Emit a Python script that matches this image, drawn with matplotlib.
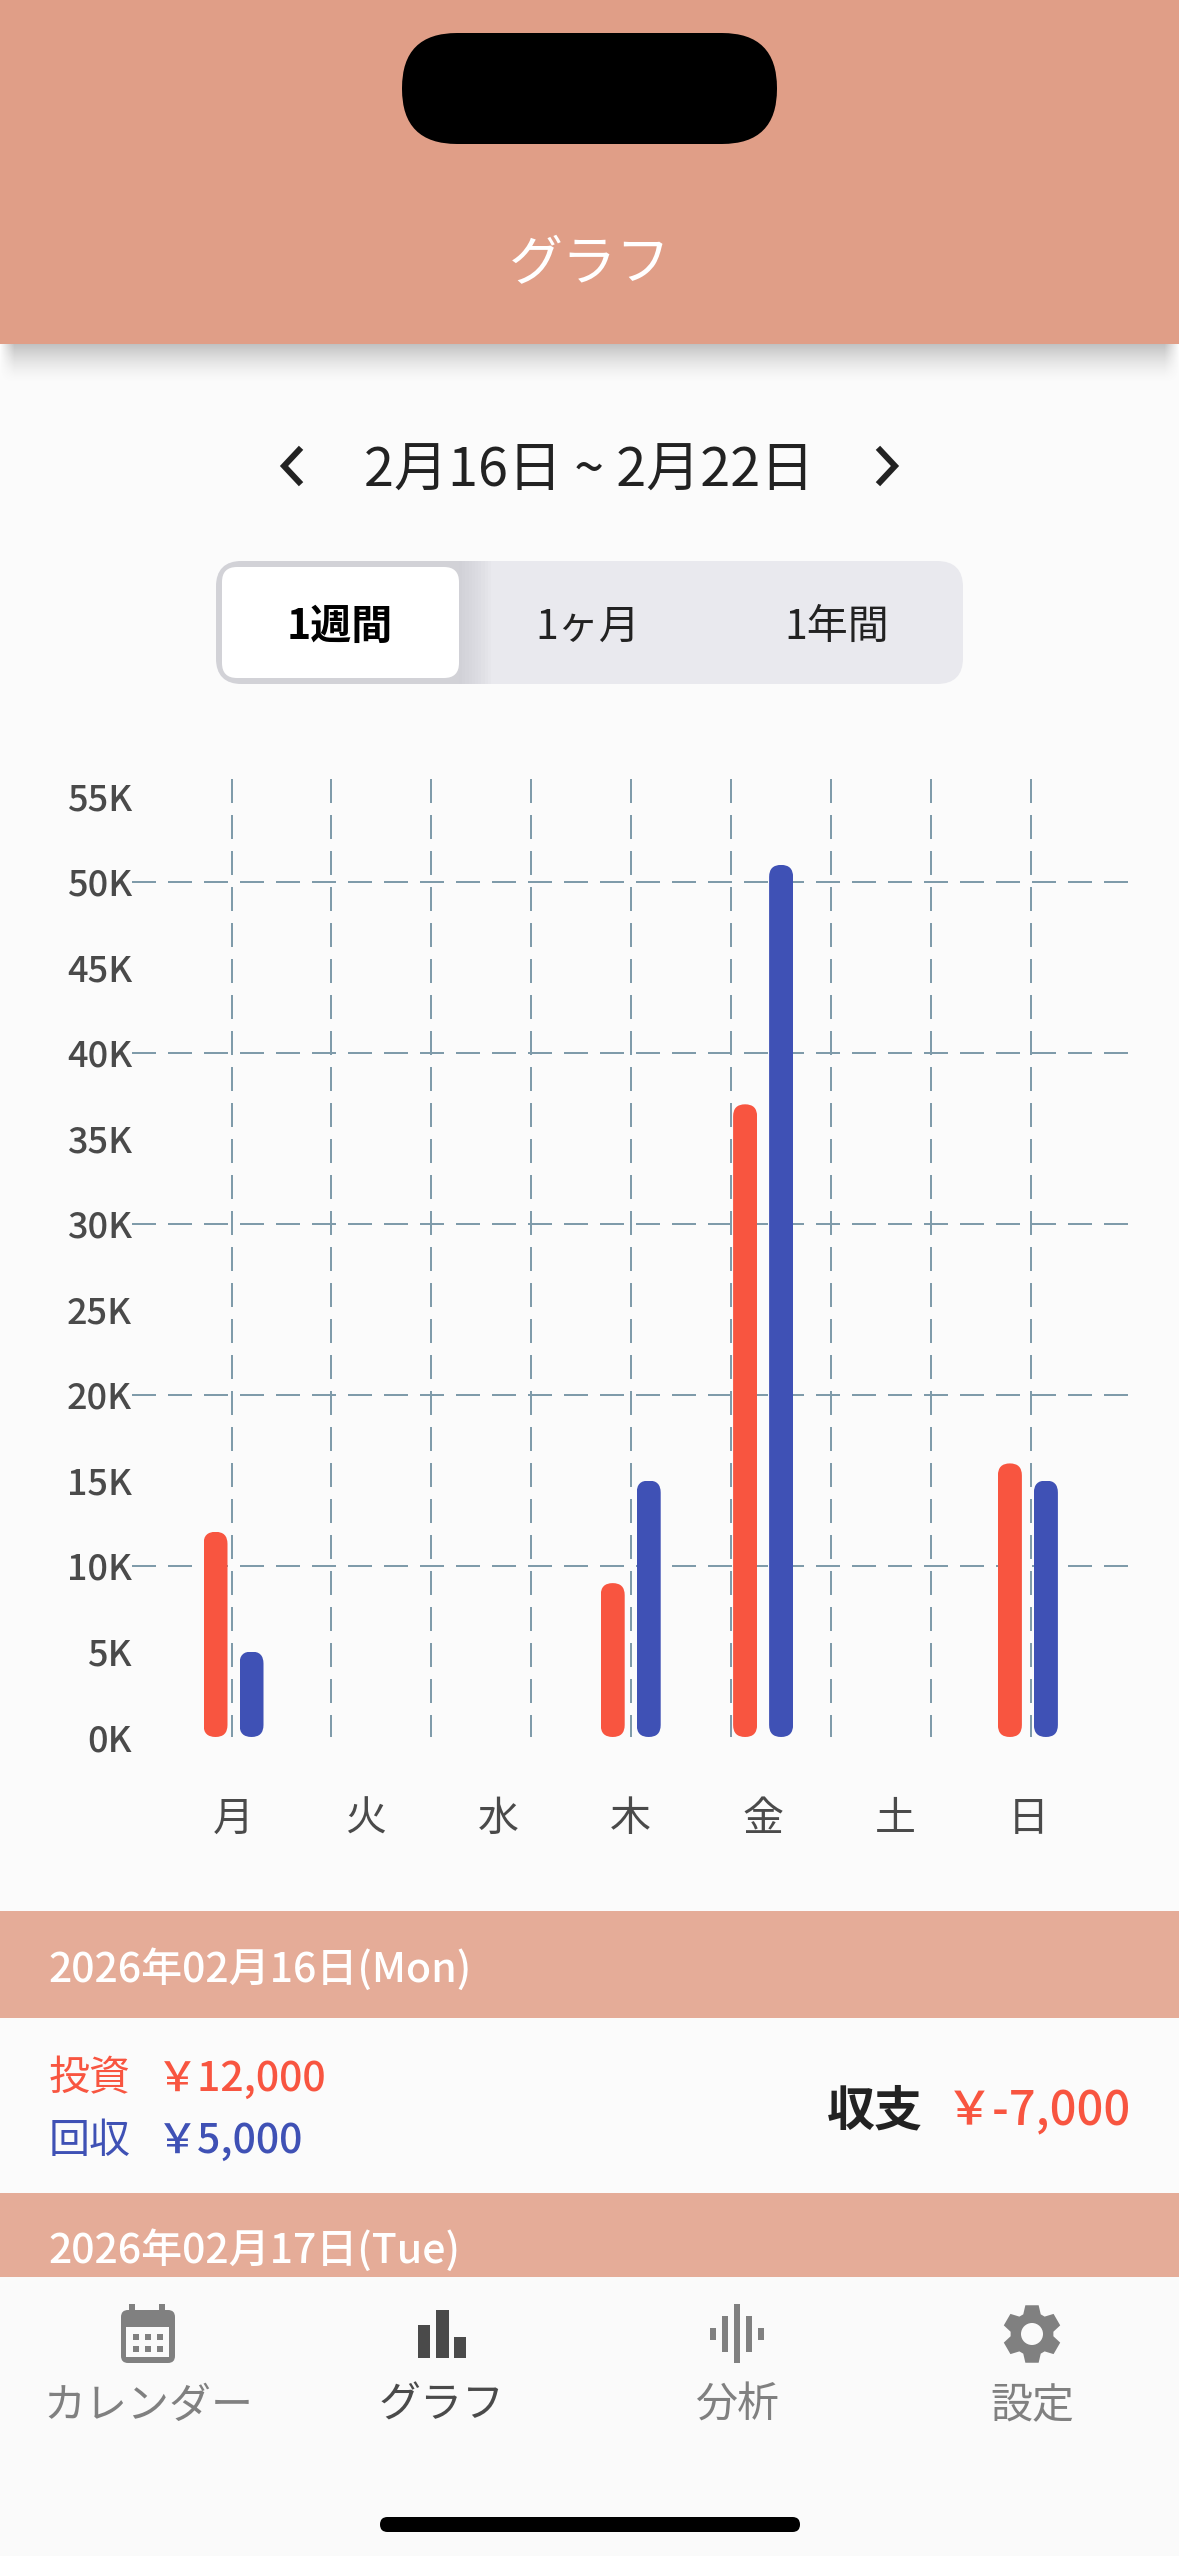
import numpy as np
import matplotlib
matplotlib.use('Agg')
import matplotlib.pyplot as plt
from matplotlib.patches import FancyBboxPatch, Rectangle, Polygon, Circle
from matplotlib.transforms import IdentityTransform

plt.rcParams['font.family'] = ['Noto Sans CJK JP', 'DejaVu Sans']

# データ
days = ['月', '火', '水', '木', '金', '土', '日']
invest = [12, 0, 0, 9, 37, 0, 16]    # 投資 (K)
collect = [5, 0, 0, 15, 51, 0, 15]   # 回収 (K)
y_ticks = [0, 5, 10, 15, 20, 25, 30, 35, 40, 45, 50, 55]
y_labels = ['0K', '5K', '10K', '15K', '20K', '25K', '30K', '35K', '40K', '45K', '50K', '55K']
y_grid = [10, 20, 30, 40, 50]
x_grid = [-0.015, 0.74, 1.495, 2.25, 3.005, 3.76, 4.515, 5.27, 6.025]
periods = ['1週間', '1ヶ月', '1年間']
tabs = ['カレンダー', 'グラフ', '分析', '設定']

W, H = 1179, 2556
BG = '#FBFBFB'
RED = '#F85540'
BLUE = '#3F51B5'
GRID = '#7F9BAA'
DARK = '#4A4A4A'
GRAY = '#808080'


def pt(px):
    return px * 72 / 100


fig = plt.figure(figsize=(W / 100, H / 100), dpi=100, facecolor=BG)

# 画面全体 (ピクセル座標)
ui = fig.add_axes([0, 0, 1, 1])
ui.set_xlim(0, W)
ui.set_ylim(H, 0)
ui.axis('off')


def rect(x0, y0, x1, y1, color, **kw):
    ui.add_patch(Rectangle((x0, y0), x1 - x0, y1 - y0, fc=color, ec='none', **kw))


def rrect(x0, y0, x1, y1, r, color, **kw):
    p = FancyBboxPatch((x0 + r, y0 + r), x1 - x0 - 2 * r, y1 - y0 - 2 * r,
                       boxstyle='round,pad=%f,rounding_size=%f' % (r, r),
                       fc=color, ec='none', **kw)
    ui.add_patch(p)
    return p


def label(x, y, s, px, color, ha='left', weight='normal', zorder=3):
    ui.text(x, y, s, fontsize=pt(px), color=color, ha=ha, va='center', fontweight=weight, zorder=zorder)


# ヘッダー
rect(0, 0, W, 344, '#E09E87')
gy = np.linspace(1, 0, 40)[:, None] ** 1.6
gx = np.clip(np.minimum(np.arange(W), W - 1 - np.arange(W)) / 14, 0, 1)[None, :]
shadow = np.zeros((40, W, 4))
shadow[..., :3] = 0.45
shadow[..., 3] = 0.42 * gy * gx
ui.imshow(shadow, extent=(0, W, 384, 344), aspect='auto', zorder=1)
ui.set_xlim(0, W)
ui.set_ylim(H, 0)
rrect(402, 33, 777, 144, 55, 'black', zorder=2)
label(590, 265, 'グラフ', 54, 'white', ha='center')

# 日付
label(589, 471, '2月16日 ~ 2月22日', 54, '#222222', ha='center')
ui.plot([299, 284, 299], [450, 466, 482], color='#222222', lw=pt(6), solid_joinstyle='miter')
ui.plot([880, 895, 880], [450, 466, 482], color='#222222', lw=pt(6), solid_joinstyle='miter')

# 期間の切り替え
outer = rrect(216, 561, 963, 684, 26, '#E9E9EE')
side = Rectangle((216, 561), 243, 123, fc='#D2D2D7', ec='none')
ui.add_patch(side)
side.set_clip_path(outer)
for i in range(10):
    s = Rectangle((459, 561), 3.2 * (10 - i), 123, fc='#B0B0B8', ec='none', alpha=0.045)
    ui.add_patch(s)
    s.set_clip_path(outer)
rrect(222, 567, 459, 678, 15, 'white', zorder=3)
label(340, 627, periods[0], 41, 'black', ha='center', weight='bold', zorder=4)
label(588, 627, periods[1], 41, '#222222', ha='center')
label(837, 627, periods[2], 41, '#222222', ha='center')

# 日別リスト
rect(0, 1911, W, 2018, '#E5AC98')
label(48, 1970, '2026年02月16日(Mon)', 41, 'white', weight='medium')
label(49, 2079, '投資', 41, RED)
label(157, 2079, '￥12,000', 41, RED, weight='medium')
label(49, 2141, '回収', 41, BLUE)
label(157, 2141, '￥5,000', 41, BLUE, weight='medium')
label(827, 2111, '収支', 48, '#222222', weight='bold')
label(1131, 2112, '￥-7,000', 47, RED, ha='right', weight='medium')
rect(0, 2193, W, 2277, '#E5AC98')
label(48, 2251, '2026年02月17日(Tue)', 41, 'white', weight='medium')

# タブバー
rect(0, 2277, W, H, '#FAFAFA')
tab_x = [148, 442, 737, 1032]
for x, s in zip(tab_x, tabs):
    label(x, 2406, s, 42, DARK if s == 'グラフ' else GRAY, ha='center')

# カレンダー
rect(129, 2304, 135, 2312, GRAY)
rect(159, 2304, 165, 2312, GRAY)
rrect(121, 2310, 175, 2363, 7, GRAY)
rect(126, 2327, 169, 2357, '#FAFAFA')
for dx in [133, 145, 157]:
    for dy in [2334, 2346]:
        rect(dx, dy, dx + 6, dy + 6, GRAY)

# グラフ
rect(418, 2325, 430, 2358, DARK)
rect(436, 2310, 449, 2358, DARK)
rect(454, 2337, 466, 2358, DARK)

# 分析
for x0, y0, y1 in [(710, 2328, 2340), (722, 2316, 2352), (734, 2304, 2363), (746, 2316, 2352), (758, 2328, 2340)]:
    rect(x0, y0, x0 + 6, y1, GRAY)

# 設定
cx, cy = 1032, 2334
gear = []
for k in range(6):
    a = np.radians(90 + 60 * k)
    for off, rad in [(-24, 21.5), (-13, 29.5), (13, 29.5), (24, 21.5)]:
        t = a + np.radians(off)
        gear.append((cx + rad * np.cos(t), cy - rad * np.sin(t)))
ui.add_patch(Polygon(gear, closed=True, fc=GRAY, ec='none'))
ui.add_patch(Circle((cx, cy), 11, fc='#FAFAFA', ec='none'))

# ホームバー
rrect(380, 2517, 800, 2532, 7.5, 'black')

# グラフ本体
x0_px, x1_px = 132, 1128
y0_px, y1_px = 1737, 779
ax = fig.add_axes([x0_px / W, 1 - y0_px / H, (x1_px - x0_px) / W, (y0_px - y1_px) / H])
ax.patch.set_alpha(0)
ax.set_xlim((x0_px - 233.5) / 132.4, (x1_px - 233.5) / 132.4)
ax.set_ylim(0, (y0_px - y1_px) / 17.1)
top = ax.get_ylim()[1]
for s in ax.spines.values():
    s.set_visible(False)

dash = (0, (12, 6))
for y in y_grid:
    ax.axhline(y, color=GRID, lw=pt(2), ls=dash, dash_capstyle='butt', zorder=1)
for x in x_grid:
    ax.plot([x, x], [top, 0], color=GRID, lw=pt(2), ls=dash, dash_capstyle='butt', zorder=1)

pos = np.arange(len(days))
bw = 24 / 132.4
off = 18 / 132.4
b1 = ax.bar(pos - off, invest, bw, color=RED, zorder=2)
b2 = ax.bar(pos + off, collect, bw, color=BLUE, zorder=2)

# 棒の角を丸くする
for bar in list(b1) + list(b2):
    if bar.get_height() == 0:
        bar.set_visible(False)
        continue
    bb = bar.get_window_extent(renderer=fig.canvas.get_renderer())
    clip = FancyBboxPatch((bb.x0 + 12, bb.y0 + 12), bb.width - 24, bb.height - 24,
                          boxstyle='round,pad=12,rounding_size=12', transform=IdentityTransform())
    bar.set_clip_path(clip)

ax.set_yticks(y_ticks, y_labels)
ax.set_xticks(pos, days)
ax.tick_params(axis='y', length=0, pad=0, labelsize=pt(36), labelcolor=DARK)
ax.tick_params(axis='x', length=0, pad=pt(62), labelsize=pt(41), labelcolor=DARK)
for t in ax.get_yticklabels():
    t.set_fontweight('medium')

fig.savefig('out.png', dpi=100, facecolor=BG)
